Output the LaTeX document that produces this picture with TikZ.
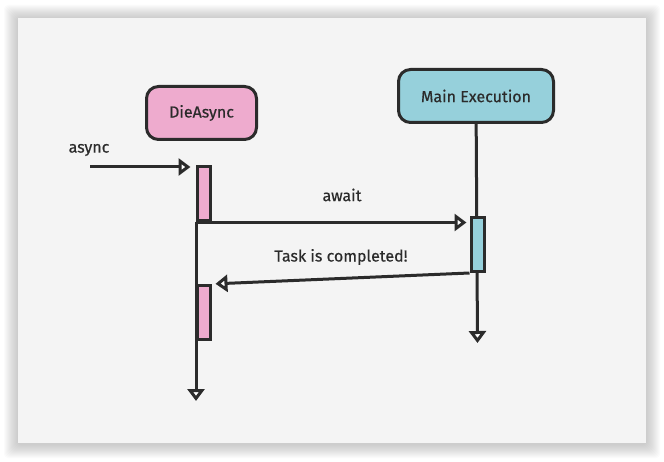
\documentclass[tikz,border=0pt]{standalone}
\usepackage{fontspec}
\setmainfont{Fira Sans}[FakeBold=0.5]
\usetikzlibrary{arrows.meta}
\definecolor{panel}{HTML}{F4F4F4}
\definecolor{ink}{HTML}{2B2B2B}
\definecolor{pinkfill}{HTML}{EEABCE}
\definecolor{cyanfill}{HTML}{96D0DB}
\tikzset{>={Triangle[length=12pt,width=17pt,fill=white]}}
\tikzset{
    actor/.style={draw=ink,line width=3pt,rounded corners=12pt,inner sep=0pt,
        minimum height=53pt,text=ink,font=\fontsize{16}{19}\selectfont},
    actbar/.style={draw=ink,line width=3pt,inner sep=0pt,
        minimum width=13pt,minimum height=54pt},
    line/.style={draw=ink,line width=3pt},
    lbl/.style={text=ink,font=\fontsize{16}{19}\selectfont}
}

\begin{document}
\begin{tikzpicture}[x=1pt,y=-1pt]
    \useasboundingbox (0,0) rectangle (664,462);
    % soft shadow and panel
    \foreach \i in {1,...,14}
        \fill[black,opacity=0.016,rounded corners=4pt]
            (18-\i,18-\i+1) rectangle (646+\i,443+\i+1);
    \fill[panel] (18,18) rectangle (646,443);
    % actors
    \node[actor,fill=pinkfill,minimum width=110pt] (die) at (201.5,113) {DieAsync};
    \node[actor,fill=cyanfill,minimum width=155pt] (main) at (476,96) {Main Execution};
    \coordinate (src) at (90,167);
    \coordinate (end1) at (196,401);
    \coordinate (end2) at (477.5,343);
    % lifelines
    \draw[line,->] (main) -- (end2);
    \draw[line,->] (196,222) -- (end1);
    % activation bars
    \node[actbar,fill=pinkfill] (b1) at (203.5,194) {};
    \node[actbar,fill=cyanfill] (b2) at (477.5,244.5) {};
    \node[actbar,fill=pinkfill] (b3) at (203.5,312.5) {};
    % messages
    \draw[line,->,shorten >=5pt] (src) -- (src -| b1.west);
    \draw[line,->,shorten >=3pt] (b1.south west) -- (b1.south west -| b2.west);
    \draw[line,->,shorten >=4pt] (b2.south west) -- (b3.north east);
    \node[lbl] (async) at (89,150) {async};
    \node[lbl] (await) at (342,195) {await};
    \node[lbl] (done) at (341,257) {Task is completed!};
\end{tikzpicture}
\end{document}
